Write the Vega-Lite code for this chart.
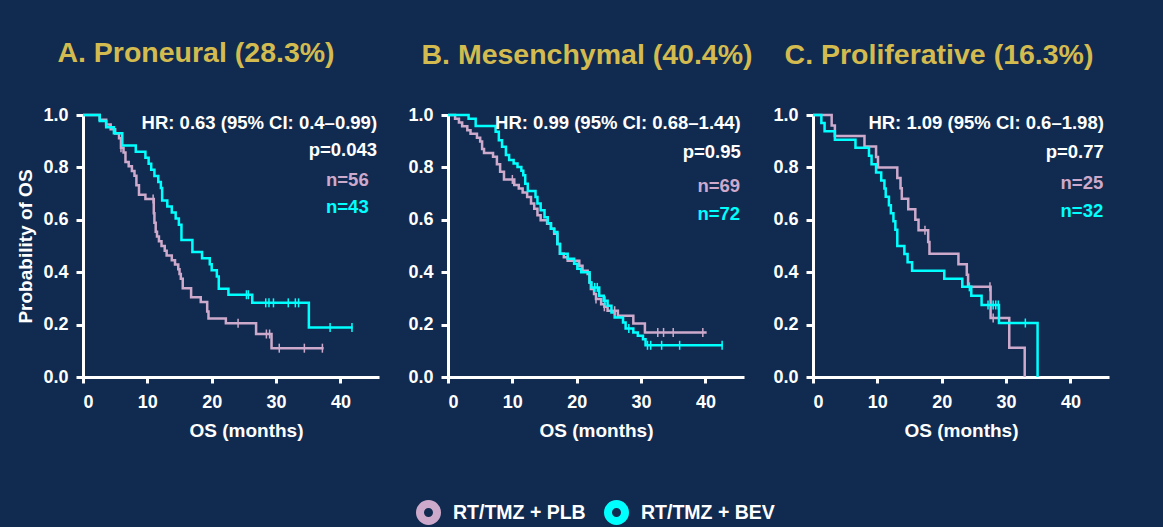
{
  "$schema": "https://vega.github.io/schema/vega-lite/v6.json",
  "background": "#112b50",
  "padding": {"left": 16, "top": 38, "right": 60, "bottom": 10},
  "config": {
    "font": "Liberation Sans",
    "view": {"stroke": null},
    "axis": {
      "grid": false,
      "domainColor": "white",
      "domainWidth": 3,
      "tickColor": "white",
      "tickWidth": 3,
      "labelColor": "white",
      "labelFont": "Liberation Sans",
      "labelFontWeight": "bold",
      "labelFontSize": 18,
      "titleColor": "white",
      "titleFont": "Liberation Sans",
      "titleFontSize": 19,
      "titleFontWeight": "bold"
    },
    "title": {"color": "#d4bb4f", "fontSize": 28.5, "fontWeight": "bold", "font": "Liberation Sans", "anchor": "middle", "baseline": "alphabetic"}
  },
  "datasets": {
    "km": [
      {"panel": "A", "arm": "RT/TMZ + PLB", "t": 0, "s": 1},
      {"panel": "A", "arm": "RT/TMZ + PLB", "t": 2.6, "s": 0.982},
      {"panel": "A", "arm": "RT/TMZ + PLB", "t": 3.6, "s": 0.964},
      {"panel": "A", "arm": "RT/TMZ + PLB", "t": 4.3, "s": 0.946},
      {"panel": "A", "arm": "RT/TMZ + PLB", "t": 5.0, "s": 0.929},
      {"panel": "A", "arm": "RT/TMZ + PLB", "t": 5.6, "s": 0.911},
      {"panel": "A", "arm": "RT/TMZ + PLB", "t": 5.9, "s": 0.875},
      {"panel": "A", "arm": "RT/TMZ + PLB", "t": 6.3, "s": 0.857},
      {"panel": "A", "arm": "RT/TMZ + PLB", "t": 6.6, "s": 0.821},
      {"panel": "A", "arm": "RT/TMZ + PLB", "t": 7.1, "s": 0.804},
      {"panel": "A", "arm": "RT/TMZ + PLB", "t": 7.6, "s": 0.786},
      {"panel": "A", "arm": "RT/TMZ + PLB", "t": 8.0, "s": 0.768},
      {"panel": "A", "arm": "RT/TMZ + PLB", "t": 8.3, "s": 0.732},
      {"panel": "A", "arm": "RT/TMZ + PLB", "t": 8.7, "s": 0.696},
      {"panel": "A", "arm": "RT/TMZ + PLB", "t": 9.7, "s": 0.679},
      {"panel": "A", "arm": "RT/TMZ + PLB", "t": 11.0, "s": 0.625},
      {"panel": "A", "arm": "RT/TMZ + PLB", "t": 11.1, "s": 0.589},
      {"panel": "A", "arm": "RT/TMZ + PLB", "t": 11.3, "s": 0.554},
      {"panel": "A", "arm": "RT/TMZ + PLB", "t": 11.5, "s": 0.536},
      {"panel": "A", "arm": "RT/TMZ + PLB", "t": 11.8, "s": 0.518},
      {"panel": "A", "arm": "RT/TMZ + PLB", "t": 12.2, "s": 0.5},
      {"panel": "A", "arm": "RT/TMZ + PLB", "t": 12.7, "s": 0.482},
      {"panel": "A", "arm": "RT/TMZ + PLB", "t": 13.0, "s": 0.464},
      {"panel": "A", "arm": "RT/TMZ + PLB", "t": 13.8, "s": 0.446},
      {"panel": "A", "arm": "RT/TMZ + PLB", "t": 14.3, "s": 0.429},
      {"panel": "A", "arm": "RT/TMZ + PLB", "t": 14.8, "s": 0.411},
      {"panel": "A", "arm": "RT/TMZ + PLB", "t": 15.0, "s": 0.393},
      {"panel": "A", "arm": "RT/TMZ + PLB", "t": 15.2, "s": 0.375},
      {"panel": "A", "arm": "RT/TMZ + PLB", "t": 15.5, "s": 0.339},
      {"panel": "A", "arm": "RT/TMZ + PLB", "t": 16.8, "s": 0.304},
      {"panel": "A", "arm": "RT/TMZ + PLB", "t": 18.3, "s": 0.286},
      {"panel": "A", "arm": "RT/TMZ + PLB", "t": 19.3, "s": 0.25},
      {"panel": "A", "arm": "RT/TMZ + PLB", "t": 19.5, "s": 0.223},
      {"panel": "A", "arm": "RT/TMZ + PLB", "t": 22.2, "s": 0.205},
      {"panel": "A", "arm": "RT/TMZ + PLB", "t": 26.9, "s": 0.164},
      {"panel": "A", "arm": "RT/TMZ + PLB", "t": 29.3, "s": 0.11},
      {"panel": "A", "arm": "RT/TMZ + PLB", "t": 37.4, "s": 0.11},

      {"panel": "A", "arm": "RT/TMZ + BEV", "t": 0, "s": 1},
      {"panel": "A", "arm": "RT/TMZ + BEV", "t": 2.6, "s": 0.977},
      {"panel": "A", "arm": "RT/TMZ + BEV", "t": 3.6, "s": 0.953},
      {"panel": "A", "arm": "RT/TMZ + BEV", "t": 4.8, "s": 0.93},
      {"panel": "A", "arm": "RT/TMZ + BEV", "t": 6.1, "s": 0.884},
      {"panel": "A", "arm": "RT/TMZ + BEV", "t": 8.2, "s": 0.86},
      {"panel": "A", "arm": "RT/TMZ + BEV", "t": 9.7, "s": 0.837},
      {"panel": "A", "arm": "RT/TMZ + BEV", "t": 10.2, "s": 0.814},
      {"panel": "A", "arm": "RT/TMZ + BEV", "t": 10.6, "s": 0.791},
      {"panel": "A", "arm": "RT/TMZ + BEV", "t": 11.1, "s": 0.767},
      {"panel": "A", "arm": "RT/TMZ + BEV", "t": 11.7, "s": 0.744},
      {"panel": "A", "arm": "RT/TMZ + BEV", "t": 12.1, "s": 0.721},
      {"panel": "A", "arm": "RT/TMZ + BEV", "t": 12.3, "s": 0.674},
      {"panel": "A", "arm": "RT/TMZ + BEV", "t": 13.1, "s": 0.651},
      {"panel": "A", "arm": "RT/TMZ + BEV", "t": 13.8, "s": 0.628},
      {"panel": "A", "arm": "RT/TMZ + BEV", "t": 14.4, "s": 0.605},
      {"panel": "A", "arm": "RT/TMZ + BEV", "t": 14.9, "s": 0.581},
      {"panel": "A", "arm": "RT/TMZ + BEV", "t": 15.3, "s": 0.523},
      {"panel": "A", "arm": "RT/TMZ + BEV", "t": 17.0, "s": 0.477},
      {"panel": "A", "arm": "RT/TMZ + BEV", "t": 18.5, "s": 0.453},
      {"panel": "A", "arm": "RT/TMZ + BEV", "t": 19.7, "s": 0.43},
      {"panel": "A", "arm": "RT/TMZ + BEV", "t": 20.0, "s": 0.407},
      {"panel": "A", "arm": "RT/TMZ + BEV", "t": 20.8, "s": 0.384},
      {"panel": "A", "arm": "RT/TMZ + BEV", "t": 21.1, "s": 0.337},
      {"panel": "A", "arm": "RT/TMZ + BEV", "t": 22.6, "s": 0.314},
      {"panel": "A", "arm": "RT/TMZ + BEV", "t": 26.3, "s": 0.283},
      {"panel": "A", "arm": "RT/TMZ + BEV", "t": 35.1, "s": 0.189},
      {"panel": "A", "arm": "RT/TMZ + BEV", "t": 41.9, "s": 0.189},

      {"panel": "B", "arm": "RT/TMZ + PLB", "t": 0, "s": 1},
      {"panel": "B", "arm": "RT/TMZ + PLB", "t": 1.1, "s": 0.986},
      {"panel": "B", "arm": "RT/TMZ + PLB", "t": 1.7, "s": 0.971},
      {"panel": "B", "arm": "RT/TMZ + PLB", "t": 2.2, "s": 0.957},
      {"panel": "B", "arm": "RT/TMZ + PLB", "t": 3.0, "s": 0.942},
      {"panel": "B", "arm": "RT/TMZ + PLB", "t": 3.5, "s": 0.928},
      {"panel": "B", "arm": "RT/TMZ + PLB", "t": 4.5, "s": 0.913},
      {"panel": "B", "arm": "RT/TMZ + PLB", "t": 5.0, "s": 0.899},
      {"panel": "B", "arm": "RT/TMZ + PLB", "t": 5.3, "s": 0.87},
      {"panel": "B", "arm": "RT/TMZ + PLB", "t": 5.6, "s": 0.855},
      {"panel": "B", "arm": "RT/TMZ + PLB", "t": 7.0, "s": 0.841},
      {"panel": "B", "arm": "RT/TMZ + PLB", "t": 7.6, "s": 0.812},
      {"panel": "B", "arm": "RT/TMZ + PLB", "t": 8.1, "s": 0.783},
      {"panel": "B", "arm": "RT/TMZ + PLB", "t": 8.7, "s": 0.754},
      {"panel": "B", "arm": "RT/TMZ + PLB", "t": 10.3, "s": 0.733},
      {"panel": "B", "arm": "RT/TMZ + PLB", "t": 11.0, "s": 0.719},
      {"panel": "B", "arm": "RT/TMZ + PLB", "t": 11.6, "s": 0.704},
      {"panel": "B", "arm": "RT/TMZ + PLB", "t": 12.3, "s": 0.687},
      {"panel": "B", "arm": "RT/TMZ + PLB", "t": 12.9, "s": 0.662},
      {"panel": "B", "arm": "RT/TMZ + PLB", "t": 13.4, "s": 0.642},
      {"panel": "B", "arm": "RT/TMZ + PLB", "t": 13.9, "s": 0.617},
      {"panel": "B", "arm": "RT/TMZ + PLB", "t": 14.4, "s": 0.598},
      {"panel": "B", "arm": "RT/TMZ + PLB", "t": 15.4, "s": 0.585},
      {"panel": "B", "arm": "RT/TMZ + PLB", "t": 16.0, "s": 0.566},
      {"panel": "B", "arm": "RT/TMZ + PLB", "t": 16.5, "s": 0.547},
      {"panel": "B", "arm": "RT/TMZ + PLB", "t": 17.0, "s": 0.508},
      {"panel": "B", "arm": "RT/TMZ + PLB", "t": 17.4, "s": 0.47},
      {"panel": "B", "arm": "RT/TMZ + PLB", "t": 18.0, "s": 0.457},
      {"panel": "B", "arm": "RT/TMZ + PLB", "t": 18.6, "s": 0.444},
      {"panel": "B", "arm": "RT/TMZ + PLB", "t": 20.4, "s": 0.425},
      {"panel": "B", "arm": "RT/TMZ + PLB", "t": 20.9, "s": 0.406},
      {"panel": "B", "arm": "RT/TMZ + PLB", "t": 21.7, "s": 0.393},
      {"panel": "B", "arm": "RT/TMZ + PLB", "t": 22.0, "s": 0.361},
      {"panel": "B", "arm": "RT/TMZ + PLB", "t": 22.2, "s": 0.336},
      {"panel": "B", "arm": "RT/TMZ + PLB", "t": 22.7, "s": 0.317},
      {"panel": "B", "arm": "RT/TMZ + PLB", "t": 23.0, "s": 0.298},
      {"panel": "B", "arm": "RT/TMZ + PLB", "t": 23.8, "s": 0.278},
      {"panel": "B", "arm": "RT/TMZ + PLB", "t": 24.3, "s": 0.268},
      {"panel": "B", "arm": "RT/TMZ + PLB", "t": 24.8, "s": 0.253},
      {"panel": "B", "arm": "RT/TMZ + PLB", "t": 26.4, "s": 0.234},
      {"panel": "B", "arm": "RT/TMZ + PLB", "t": 28.8, "s": 0.204},
      {"panel": "B", "arm": "RT/TMZ + PLB", "t": 30.6, "s": 0.17},
      {"panel": "B", "arm": "RT/TMZ + PLB", "t": 40.2, "s": 0.17},

      {"panel": "B", "arm": "RT/TMZ + BEV", "t": 0, "s": 1},
      {"panel": "B", "arm": "RT/TMZ + BEV", "t": 3.2, "s": 0.986},
      {"panel": "B", "arm": "RT/TMZ + BEV", "t": 4.3, "s": 0.958},
      {"panel": "B", "arm": "RT/TMZ + BEV", "t": 7.4, "s": 0.936},
      {"panel": "B", "arm": "RT/TMZ + BEV", "t": 7.9, "s": 0.904},
      {"panel": "B", "arm": "RT/TMZ + BEV", "t": 8.4, "s": 0.879},
      {"panel": "B", "arm": "RT/TMZ + BEV", "t": 9.0, "s": 0.847},
      {"panel": "B", "arm": "RT/TMZ + BEV", "t": 9.5, "s": 0.828},
      {"panel": "B", "arm": "RT/TMZ + BEV", "t": 10.2, "s": 0.815},
      {"panel": "B", "arm": "RT/TMZ + BEV", "t": 10.8, "s": 0.802},
      {"panel": "B", "arm": "RT/TMZ + BEV", "t": 11.4, "s": 0.787},
      {"panel": "B", "arm": "RT/TMZ + BEV", "t": 11.7, "s": 0.77},
      {"panel": "B", "arm": "RT/TMZ + BEV", "t": 12.0, "s": 0.738},
      {"panel": "B", "arm": "RT/TMZ + BEV", "t": 12.4, "s": 0.71},
      {"panel": "B", "arm": "RT/TMZ + BEV", "t": 13.6, "s": 0.687},
      {"panel": "B", "arm": "RT/TMZ + BEV", "t": 13.9, "s": 0.662},
      {"panel": "B", "arm": "RT/TMZ + BEV", "t": 14.4, "s": 0.636},
      {"panel": "B", "arm": "RT/TMZ + BEV", "t": 15.0, "s": 0.61},
      {"panel": "B", "arm": "RT/TMZ + BEV", "t": 15.5, "s": 0.587},
      {"panel": "B", "arm": "RT/TMZ + BEV", "t": 16.0, "s": 0.566},
      {"panel": "B", "arm": "RT/TMZ + BEV", "t": 16.5, "s": 0.553},
      {"panel": "B", "arm": "RT/TMZ + BEV", "t": 17.0, "s": 0.508},
      {"panel": "B", "arm": "RT/TMZ + BEV", "t": 17.4, "s": 0.47},
      {"panel": "B", "arm": "RT/TMZ + BEV", "t": 18.6, "s": 0.451},
      {"panel": "B", "arm": "RT/TMZ + BEV", "t": 19.6, "s": 0.432},
      {"panel": "B", "arm": "RT/TMZ + BEV", "t": 20.1, "s": 0.413},
      {"panel": "B", "arm": "RT/TMZ + BEV", "t": 20.7, "s": 0.4},
      {"panel": "B", "arm": "RT/TMZ + BEV", "t": 22.0, "s": 0.361},
      {"panel": "B", "arm": "RT/TMZ + BEV", "t": 22.3, "s": 0.342},
      {"panel": "B", "arm": "RT/TMZ + BEV", "t": 23.5, "s": 0.31},
      {"panel": "B", "arm": "RT/TMZ + BEV", "t": 24.2, "s": 0.291},
      {"panel": "B", "arm": "RT/TMZ + BEV", "t": 24.8, "s": 0.272},
      {"panel": "B", "arm": "RT/TMZ + BEV", "t": 25.4, "s": 0.246},
      {"panel": "B", "arm": "RT/TMZ + BEV", "t": 25.9, "s": 0.227},
      {"panel": "B", "arm": "RT/TMZ + BEV", "t": 27.2, "s": 0.208},
      {"panel": "B", "arm": "RT/TMZ + BEV", "t": 27.6, "s": 0.185},
      {"panel": "B", "arm": "RT/TMZ + BEV", "t": 28.8, "s": 0.17},
      {"panel": "B", "arm": "RT/TMZ + BEV", "t": 29.5, "s": 0.157},
      {"panel": "B", "arm": "RT/TMZ + BEV", "t": 30.3, "s": 0.144},
      {"panel": "B", "arm": "RT/TMZ + BEV", "t": 30.7, "s": 0.121},
      {"panel": "B", "arm": "RT/TMZ + BEV", "t": 42.7, "s": 0.121},

      {"panel": "C", "arm": "RT/TMZ + PLB", "t": 0, "s": 1},
      {"panel": "C", "arm": "RT/TMZ + PLB", "t": 2.9, "s": 0.96},
      {"panel": "C", "arm": "RT/TMZ + PLB", "t": 3.4, "s": 0.92},
      {"panel": "C", "arm": "RT/TMZ + PLB", "t": 8.0, "s": 0.88},
      {"panel": "C", "arm": "RT/TMZ + PLB", "t": 9.8, "s": 0.84},
      {"panel": "C", "arm": "RT/TMZ + PLB", "t": 10.1, "s": 0.8},
      {"panel": "C", "arm": "RT/TMZ + PLB", "t": 13.1, "s": 0.76},
      {"panel": "C", "arm": "RT/TMZ + PLB", "t": 13.6, "s": 0.72},
      {"panel": "C", "arm": "RT/TMZ + PLB", "t": 13.8, "s": 0.68},
      {"panel": "C", "arm": "RT/TMZ + PLB", "t": 14.8, "s": 0.64},
      {"panel": "C", "arm": "RT/TMZ + PLB", "t": 15.9, "s": 0.6},
      {"panel": "C", "arm": "RT/TMZ + PLB", "t": 16.4, "s": 0.56},
      {"panel": "C", "arm": "RT/TMZ + PLB", "t": 17.9, "s": 0.515},
      {"panel": "C", "arm": "RT/TMZ + PLB", "t": 18.1, "s": 0.47},
      {"panel": "C", "arm": "RT/TMZ + PLB", "t": 22.6, "s": 0.43},
      {"panel": "C", "arm": "RT/TMZ + PLB", "t": 23.9, "s": 0.39},
      {"panel": "C", "arm": "RT/TMZ + PLB", "t": 24.1, "s": 0.344},
      {"panel": "C", "arm": "RT/TMZ + PLB", "t": 27.6, "s": 0.225},
      {"panel": "C", "arm": "RT/TMZ + PLB", "t": 30.5, "s": 0.112},
      {"panel": "C", "arm": "RT/TMZ + PLB", "t": 32.9, "s": 0},

      {"panel": "C", "arm": "RT/TMZ + BEV", "t": 0, "s": 1},
      {"panel": "C", "arm": "RT/TMZ + BEV", "t": 1.3, "s": 0.969},
      {"panel": "C", "arm": "RT/TMZ + BEV", "t": 1.8, "s": 0.938},
      {"panel": "C", "arm": "RT/TMZ + BEV", "t": 3.4, "s": 0.906},
      {"panel": "C", "arm": "RT/TMZ + BEV", "t": 6.6, "s": 0.875},
      {"panel": "C", "arm": "RT/TMZ + BEV", "t": 8.7, "s": 0.844},
      {"panel": "C", "arm": "RT/TMZ + BEV", "t": 9.1, "s": 0.812},
      {"panel": "C", "arm": "RT/TMZ + BEV", "t": 9.8, "s": 0.781},
      {"panel": "C", "arm": "RT/TMZ + BEV", "t": 10.6, "s": 0.75},
      {"panel": "C", "arm": "RT/TMZ + BEV", "t": 11.1, "s": 0.719},
      {"panel": "C", "arm": "RT/TMZ + BEV", "t": 11.3, "s": 0.688},
      {"panel": "C", "arm": "RT/TMZ + BEV", "t": 11.8, "s": 0.656},
      {"panel": "C", "arm": "RT/TMZ + BEV", "t": 12.1, "s": 0.625},
      {"panel": "C", "arm": "RT/TMZ + BEV", "t": 12.5, "s": 0.594},
      {"panel": "C", "arm": "RT/TMZ + BEV", "t": 12.8, "s": 0.562},
      {"panel": "C", "arm": "RT/TMZ + BEV", "t": 13.1, "s": 0.5},
      {"panel": "C", "arm": "RT/TMZ + BEV", "t": 14.2, "s": 0.469},
      {"panel": "C", "arm": "RT/TMZ + BEV", "t": 14.7, "s": 0.438},
      {"panel": "C", "arm": "RT/TMZ + BEV", "t": 15.4, "s": 0.406},
      {"panel": "C", "arm": "RT/TMZ + BEV", "t": 20.4, "s": 0.375},
      {"panel": "C", "arm": "RT/TMZ + BEV", "t": 23.2, "s": 0.344},
      {"panel": "C", "arm": "RT/TMZ + BEV", "t": 24.6, "s": 0.31},
      {"panel": "C", "arm": "RT/TMZ + BEV", "t": 26.2, "s": 0.275},
      {"panel": "C", "arm": "RT/TMZ + BEV", "t": 28.9, "s": 0.206},
      {"panel": "C", "arm": "RT/TMZ + BEV", "t": 34.9, "s": 0}
    ],
    "censored": [
      {"panel": "A", "arm": "RT/TMZ + PLB", "t": 5.9, "s": 0.875},
      {"panel": "A", "arm": "RT/TMZ + PLB", "t": 10.9, "s": 0.679},
      {"panel": "A", "arm": "RT/TMZ + PLB", "t": 24.1, "s": 0.205},
      {"panel": "A", "arm": "RT/TMZ + PLB", "t": 28.5, "s": 0.164},
      {"panel": "A", "arm": "RT/TMZ + PLB", "t": 29.0, "s": 0.164},
      {"panel": "A", "arm": "RT/TMZ + PLB", "t": 30.5, "s": 0.11},
      {"panel": "A", "arm": "RT/TMZ + PLB", "t": 34.4, "s": 0.11},
      {"panel": "A", "arm": "RT/TMZ + PLB", "t": 37.2, "s": 0.11},
      {"panel": "A", "arm": "RT/TMZ + BEV", "t": 25.4, "s": 0.314},
      {"panel": "A", "arm": "RT/TMZ + BEV", "t": 25.7, "s": 0.314},
      {"panel": "A", "arm": "RT/TMZ + BEV", "t": 28.4, "s": 0.283},
      {"panel": "A", "arm": "RT/TMZ + BEV", "t": 28.9, "s": 0.283},
      {"panel": "A", "arm": "RT/TMZ + BEV", "t": 29.6, "s": 0.283},
      {"panel": "A", "arm": "RT/TMZ + BEV", "t": 31.9, "s": 0.283},
      {"panel": "A", "arm": "RT/TMZ + BEV", "t": 33.0, "s": 0.283},
      {"panel": "A", "arm": "RT/TMZ + BEV", "t": 33.5, "s": 0.283},
      {"panel": "A", "arm": "RT/TMZ + BEV", "t": 38.4, "s": 0.189},
      {"panel": "A", "arm": "RT/TMZ + BEV", "t": 41.8, "s": 0.189},
      {"panel": "B", "arm": "RT/TMZ + PLB", "t": 10.0, "s": 0.754},
      {"panel": "B", "arm": "RT/TMZ + PLB", "t": 23.0, "s": 0.298},
      {"panel": "B", "arm": "RT/TMZ + PLB", "t": 24.3, "s": 0.268},
      {"panel": "B", "arm": "RT/TMZ + PLB", "t": 25.9, "s": 0.253},
      {"panel": "B", "arm": "RT/TMZ + PLB", "t": 32.6, "s": 0.17},
      {"panel": "B", "arm": "RT/TMZ + PLB", "t": 33.5, "s": 0.17},
      {"panel": "B", "arm": "RT/TMZ + PLB", "t": 35.0, "s": 0.17},
      {"panel": "B", "arm": "RT/TMZ + PLB", "t": 39.6, "s": 0.17},
      {"panel": "B", "arm": "RT/TMZ + BEV", "t": 22.8, "s": 0.342},
      {"panel": "B", "arm": "RT/TMZ + BEV", "t": 23.2, "s": 0.342},
      {"panel": "B", "arm": "RT/TMZ + BEV", "t": 24.4, "s": 0.291},
      {"panel": "B", "arm": "RT/TMZ + BEV", "t": 28.1, "s": 0.185},
      {"panel": "B", "arm": "RT/TMZ + BEV", "t": 31.0, "s": 0.121},
      {"panel": "B", "arm": "RT/TMZ + BEV", "t": 31.5, "s": 0.121},
      {"panel": "B", "arm": "RT/TMZ + BEV", "t": 33.2, "s": 0.121},
      {"panel": "B", "arm": "RT/TMZ + BEV", "t": 36.0, "s": 0.121},
      {"panel": "B", "arm": "RT/TMZ + BEV", "t": 42.6, "s": 0.121},
      {"panel": "C", "arm": "RT/TMZ + PLB", "t": 17.4, "s": 0.56},
      {"panel": "C", "arm": "RT/TMZ + PLB", "t": 27.5, "s": 0.344},
      {"panel": "C", "arm": "RT/TMZ + PLB", "t": 28.0, "s": 0.225},
      {"panel": "C", "arm": "RT/TMZ + BEV", "t": 24.3, "s": 0.344},
      {"panel": "C", "arm": "RT/TMZ + BEV", "t": 27.2, "s": 0.275},
      {"panel": "C", "arm": "RT/TMZ + BEV", "t": 28.0, "s": 0.275},
      {"panel": "C", "arm": "RT/TMZ + BEV", "t": 28.4, "s": 0.275},
      {"panel": "C", "arm": "RT/TMZ + BEV", "t": 28.8, "s": 0.275},
      {"panel": "C", "arm": "RT/TMZ + BEV", "t": 33.0, "s": 0.206}
    ]
  },
  "spacing": 69,
  "bounds": "flush",
  "resolve": {"scale": {"color": "shared"}},
  "hconcat": [
    {
      "width": 296,
      "height": 262,
      "title": {"text": "A. Proneural (28.3%)", "dx": -35, "offset": 39},
      "layer": [
        {"data": {"name": "km"}, "transform": [{"filter": "datum.panel === 'A' && datum.arm === 'RT/TMZ + PLB'"}],
         "mark": {"type": "line", "interpolate": "step-after", "strokeWidth": 2.5},
         "encoding": {
           "x": {"field": "t", "type": "quantitative", "scale": {"domain": [0, 46], "nice": false},
                 "axis": {"values": [0, 10, 20, 30, 40], "title": "OS (months)", "tickSize": 6, "labelPadding": 10, "titlePadding": 10, "titleX": 163}},
           "y": {"field": "s", "type": "quantitative", "scale": {"domain": [0, 1], "nice": false},
                 "axis": {"values": [0, 0.2, 0.4, 0.6, 0.8, 1], "format": ".1f", "title": "Probability of OS", "tickSize": 7, "labelPadding": 8, "titlePadding": 7}},
           "color": {"field": "arm", "type": "nominal", "title": null,
             "scale": {"domain": ["RT/TMZ + PLB", "RT/TMZ + BEV"], "range": ["#cdaacb", "#00ffff"]},
             "legend": {"orient": "none", "legendX": 333, "legendY": 385, "direction": "horizontal", "title": null,
               "symbolType": "circle", "symbolSize": 289, "symbolStrokeWidth": 8, "symbolFillColor": "#112b50",
               "labelFontSize": 19.5, "labelFontWeight": "bold", "labelColor": "white", "labelFont": "Liberation Sans",
               "labelOffset": 12, "columnPadding": 6}}}},
        {"data": {"name": "km"}, "transform": [{"filter": "datum.panel === 'A' && datum.arm === 'RT/TMZ + BEV'"}],
         "mark": {"type": "line", "interpolate": "step-after", "strokeWidth": 2.5},
         "encoding": {"x": {"field": "t", "type": "quantitative"}, "y": {"field": "s", "type": "quantitative"}, "color": {"field": "arm", "type": "nominal"}}},
        {"data": {"name": "censored"}, "transform": [{"filter": "datum.panel === 'A'"}],
         "mark": {"type": "point", "shape": "M0,-1L0,1", "size": 81, "strokeWidth": 1.5, "filled": false, "opacity": 1},
         "encoding": {"x": {"field": "t", "type": "quantitative"}, "y": {"field": "s", "type": "quantitative"}, "color": {"field": "arm", "type": "nominal"}}},
        {"data": {"values": [{"label": "HR: 0.63 (95% CI: 0.4–0.99)"}]},
         "mark": {"type": "text", "color": "white", "align": "right", "baseline": "middle", "fontSize": 18.5, "fontWeight": "bold", "font": "Liberation Sans"},
         "encoding": {"x": {"datum": 45.7, "type": "quantitative"}, "y": {"datum": 0.971, "type": "quantitative"}, "text": {"field": "label", "type": "nominal"}}},
        {"data": {"values": [{"label": "p=0.043"}]},
         "mark": {"type": "text", "color": "white", "align": "right", "baseline": "middle", "fontSize": 18.5, "fontWeight": "bold", "font": "Liberation Sans"},
         "encoding": {"x": {"datum": 45.7, "type": "quantitative"}, "y": {"datum": 0.866, "type": "quantitative"}, "text": {"field": "label", "type": "nominal"}}},
        {"data": {"values": [{"label": "n=56"}]},
         "mark": {"type": "text", "color": "#cdaacb", "align": "right", "baseline": "middle", "fontSize": 18.5, "fontWeight": "bold", "font": "Liberation Sans"},
         "encoding": {"x": {"datum": 44.4, "type": "quantitative"}, "y": {"datum": 0.752, "type": "quantitative"}, "text": {"field": "label", "type": "nominal"}}},
        {"data": {"values": [{"label": "n=43"}]},
         "mark": {"type": "text", "color": "#00ffff", "align": "right", "baseline": "middle", "fontSize": 18.5, "fontWeight": "bold", "font": "Liberation Sans"},
         "encoding": {"x": {"datum": 44.4, "type": "quantitative"}, "y": {"datum": 0.649, "type": "quantitative"}, "text": {"field": "label", "type": "nominal"}}}
      ]
    },
    {
      "width": 296,
      "height": 262,
      "title": {"text": "B. Mesenchymal (40.4%)", "dx": -9, "offset": 37},
      "layer": [
        {"data": {"name": "km"}, "transform": [{"filter": "datum.panel === 'B' && datum.arm === 'RT/TMZ + PLB'"}],
         "mark": {"type": "line", "interpolate": "step-after", "strokeWidth": 2.5},
         "encoding": {
           "x": {"field": "t", "type": "quantitative", "scale": {"domain": [0, 46], "nice": false},
                 "axis": {"values": [0, 10, 20, 30, 40], "title": "OS (months)", "tickSize": 6, "labelPadding": 10, "titlePadding": 10}},
           "y": {"field": "s", "type": "quantitative", "scale": {"domain": [0, 1], "nice": false},
                 "axis": {"values": [0, 0.2, 0.4, 0.6, 0.8, 1], "format": ".1f", "title": null, "tickSize": 7, "labelPadding": 8}},
           "color": {"field": "arm", "type": "nominal"}}},
        {"data": {"name": "km"}, "transform": [{"filter": "datum.panel === 'B' && datum.arm === 'RT/TMZ + BEV'"}],
         "mark": {"type": "line", "interpolate": "step-after", "strokeWidth": 2.5},
         "encoding": {"x": {"field": "t", "type": "quantitative"}, "y": {"field": "s", "type": "quantitative"}, "color": {"field": "arm", "type": "nominal"}}},
        {"data": {"name": "censored"}, "transform": [{"filter": "datum.panel === 'B'"}],
         "mark": {"type": "point", "shape": "M0,-1L0,1", "size": 81, "strokeWidth": 1.5, "filled": false, "opacity": 1},
         "encoding": {"x": {"field": "t", "type": "quantitative"}, "y": {"field": "s", "type": "quantitative"}, "color": {"field": "arm", "type": "nominal"}}},
        {"data": {"values": [{"label": "HR: 0.99 (95% CI: 0.68–1.44)"}]},
         "mark": {"type": "text", "color": "white", "align": "right", "baseline": "middle", "fontSize": 18.5, "fontWeight": "bold", "font": "Liberation Sans"},
         "encoding": {"x": {"datum": 45.5, "type": "quantitative"}, "y": {"datum": 0.971, "type": "quantitative"}, "text": {"field": "label", "type": "nominal"}}},
        {"data": {"values": [{"label": "p=0.95"}]},
         "mark": {"type": "text", "color": "white", "align": "right", "baseline": "middle", "fontSize": 18.5, "fontWeight": "bold", "font": "Liberation Sans"},
         "encoding": {"x": {"datum": 45.5, "type": "quantitative"}, "y": {"datum": 0.86, "type": "quantitative"}, "text": {"field": "label", "type": "nominal"}}},
        {"data": {"values": [{"label": "n=69"}]},
         "mark": {"type": "text", "color": "#cdaacb", "align": "right", "baseline": "middle", "fontSize": 18.5, "fontWeight": "bold", "font": "Liberation Sans"},
         "encoding": {"x": {"datum": 45.4, "type": "quantitative"}, "y": {"datum": 0.729, "type": "quantitative"}, "text": {"field": "label", "type": "nominal"}}},
        {"data": {"values": [{"label": "n=72"}]},
         "mark": {"type": "text", "color": "#00ffff", "align": "right", "baseline": "middle", "fontSize": 18.5, "fontWeight": "bold", "font": "Liberation Sans"},
         "encoding": {"x": {"datum": 45.4, "type": "quantitative"}, "y": {"datum": 0.624, "type": "quantitative"}, "text": {"field": "label", "type": "nominal"}}}
      ]
    },
    {
      "width": 296,
      "height": 262,
      "title": {"text": "C. Proliferative (16.3%)", "dx": -22, "offset": 37},
      "layer": [
        {"data": {"name": "km"}, "transform": [{"filter": "datum.panel === 'C' && datum.arm === 'RT/TMZ + PLB'"}],
         "mark": {"type": "line", "interpolate": "step-after", "strokeWidth": 2.5},
         "encoding": {
           "x": {"field": "t", "type": "quantitative", "scale": {"domain": [0, 46], "nice": false},
                 "axis": {"values": [0, 10, 20, 30, 40], "title": "OS (months)", "tickSize": 6, "labelPadding": 10, "titlePadding": 10}},
           "y": {"field": "s", "type": "quantitative", "scale": {"domain": [0, 1], "nice": false},
                 "axis": {"values": [0, 0.2, 0.4, 0.6, 0.8, 1], "format": ".1f", "title": null, "tickSize": 7, "labelPadding": 8}},
           "color": {"field": "arm", "type": "nominal"}}},
        {"data": {"name": "km"}, "transform": [{"filter": "datum.panel === 'C' && datum.arm === 'RT/TMZ + BEV'"}],
         "mark": {"type": "line", "interpolate": "step-after", "strokeWidth": 2.5},
         "encoding": {"x": {"field": "t", "type": "quantitative"}, "y": {"field": "s", "type": "quantitative"}, "color": {"field": "arm", "type": "nominal"}}},
        {"data": {"name": "censored"}, "transform": [{"filter": "datum.panel === 'C'"}],
         "mark": {"type": "point", "shape": "M0,-1L0,1", "size": 81, "strokeWidth": 1.5, "filled": false, "opacity": 1},
         "encoding": {"x": {"field": "t", "type": "quantitative"}, "y": {"field": "s", "type": "quantitative"}, "color": {"field": "arm", "type": "nominal"}}},
        {"data": {"values": [{"label": "HR: 1.09 (95% CI: 0.6–1.98)"}]},
         "mark": {"type": "text", "color": "white", "align": "right", "baseline": "middle", "fontSize": 18.5, "fontWeight": "bold", "font": "Liberation Sans"},
         "encoding": {"x": {"datum": 45.2, "type": "quantitative"}, "y": {"datum": 0.968, "type": "quantitative"}, "text": {"field": "label", "type": "nominal"}}},
        {"data": {"values": [{"label": "p=0.77"}]},
         "mark": {"type": "text", "color": "white", "align": "right", "baseline": "middle", "fontSize": 18.5, "fontWeight": "bold", "font": "Liberation Sans"},
         "encoding": {"x": {"datum": 45.2, "type": "quantitative"}, "y": {"datum": 0.86, "type": "quantitative"}, "text": {"field": "label", "type": "nominal"}}},
        {"data": {"values": [{"label": "n=25"}]},
         "mark": {"type": "text", "color": "#cdaacb", "align": "right", "baseline": "middle", "fontSize": 18.5, "fontWeight": "bold", "font": "Liberation Sans"},
         "encoding": {"x": {"datum": 45.1, "type": "quantitative"}, "y": {"datum": 0.74, "type": "quantitative"}, "text": {"field": "label", "type": "nominal"}}},
        {"data": {"values": [{"label": "n=32"}]},
         "mark": {"type": "text", "color": "#00ffff", "align": "right", "baseline": "middle", "fontSize": 18.5, "fontWeight": "bold", "font": "Liberation Sans"},
         "encoding": {"x": {"datum": 45.1, "type": "quantitative"}, "y": {"datum": 0.635, "type": "quantitative"}, "text": {"field": "label", "type": "nominal"}}}
      ]
    }
  ]
}
